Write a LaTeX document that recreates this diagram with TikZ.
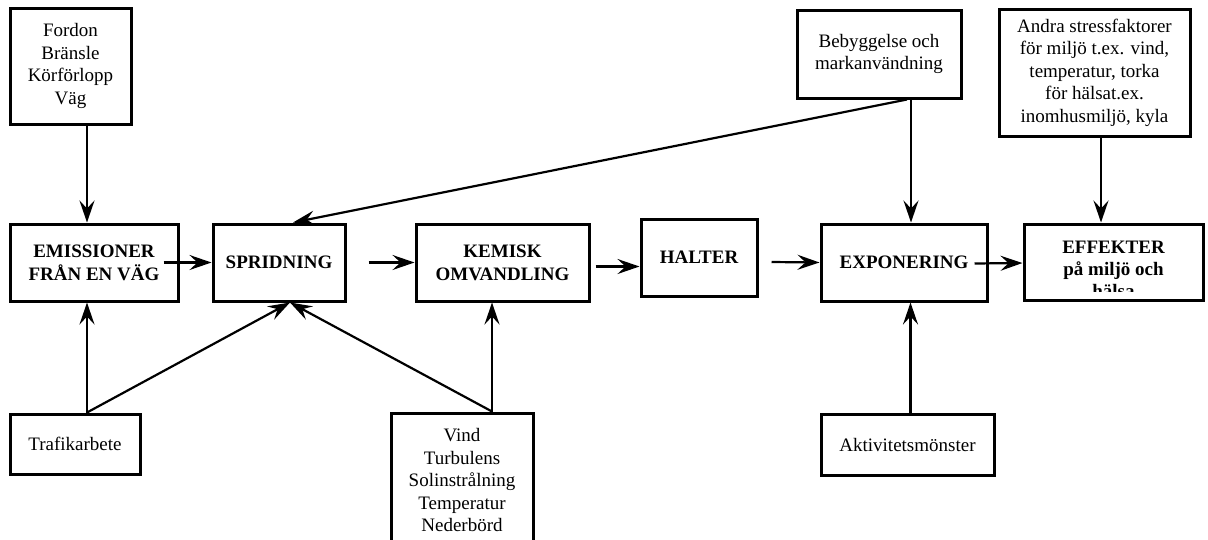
\documentclass[tikz,border=0pt]{standalone}
\usepackage{fontspec}
\setmainfont{Liberation Serif}
\usetikzlibrary{arrows.meta}
\tikzset{
  box/.style={draw, line width=3pt, inner sep=0pt, align=center,
    font=\fontsize{19}{22.5}\selectfont},
  bbox/.style={box, font=\fontsize{19}{23}\selectfont\bfseries},
  arr/.style={line width=2.2pt, -{Stealth[length=22pt, width=15pt, inset=8pt]}},
}
\begin{document}
\begin{tikzpicture}[x=1pt,y=-1pt]
\useasboundingbox (0,0) rectangle (1208,539);
\clip (0,0) rectangle (1208,539);
% top boxes
\node[box, minimum width=121pt, minimum height=116pt] (fordon) at (70.5,66) {Fordon\\Bränsle\\Körförlopp\\Väg};
\node[box, minimum width=164pt, minimum height=88pt] (beb) at (879,54) {Bebyggelse och\\markanvändning};
\node[box, minimum width=191pt, minimum height=127pt] (andra) at (1094.5,72.5) {Andra stressfaktorer\\för miljö t.ex. vind,\\temperatur, torka\\för hälsat.ex.\\inomhusmiljö, kyla};
% main row
\node[bbox, minimum width=168pt, minimum height=77pt] (emis) at (94,262.5) {EMISSIONER\\FRÅN EN VÄG};
\node[bbox, minimum width=132pt, minimum height=77pt] (sprid) at (279,262.5) {SPRIDNING};
\node[bbox, minimum width=173pt, minimum height=77pt] (kem) at (502.5,262.5) {KEMISK\\OMVANDLING};
\node[bbox, minimum width=116pt, minimum height=77pt] (halt) at (699,257.5) {HALTER};
\node[bbox, minimum width=166pt, minimum height=77pt] (exp) at (904,262.5) {EXPONERING};
\node[bbox, minimum width=179pt, minimum height=76pt] (eff) at (1113.5,262) {};
\begin{scope}
\clip (1026,226) rectangle (1201,291);
\node[font=\fontsize{19}{22}\selectfont\bfseries, align=center, inner sep=0pt] (efftext) at (1113.5,269) {EFFEKTER\\på miljö och\\hälsa};
\end{scope}
% bottom boxes
\node[box, minimum width=130pt, minimum height=60pt] (traf) at (75,444) {Trafikarbete};
\node[box, minimum width=142pt, minimum height=134pt] (vind) at (462,480) {Vind\\Turbulens\\Solinstrålning\\Temperatur\\Nederbörd};
\node[box, minimum width=173pt, minimum height=61pt] (akt) at (907.5,444.5) {Aktivitetsmönster};
% horizontal arrows
\draw[arr] ([xshift=-16pt]emis.east) -- (sprid.west);
\draw[arr] ([xshift=22pt]sprid.east) -- (kem.west);
\draw[arr] ([xshift=5pt,yshift=-4pt]kem.east) -- ([yshift=-9pt]halt.west);
\draw[arr] ([xshift=13pt,yshift=-4.5pt]halt.east) -- (exp.west);
\draw[arr] ([xshift=-14pt,yshift=-1pt]exp.east) -- ([yshift=-1pt]eff.west);
% vertical / diagonal arrows
\draw[arr] ([xshift=16.5pt]fordon.south) -- ([xshift=-7pt]emis.north);
\draw[arr] ([xshift=12pt]traf.north) -- ([xshift=-7pt]emis.south);
\draw[arr] ([xshift=12pt]traf.north) -- ([xshift=11pt]sprid.south);
\draw[arr] ([xshift=30pt]vind.north) -- ([xshift=11pt]sprid.south);
\draw[arr] ([xshift=30pt]vind.north) -- ([xshift=-10.5pt]kem.south);
\draw[arr] ([xshift=28pt]beb.south) -- ([xshift=14pt]sprid.north);
\draw[arr] ([xshift=32pt]beb.south) -- ([xshift=7pt]exp.north);
\draw[arr] ([xshift=6.5pt]andra.south) -- ([xshift=-12.5pt]eff.north);
\draw[arr] ([xshift=3pt]akt.north) -- ([xshift=6.5pt]exp.south);
\end{tikzpicture}
\end{document}
